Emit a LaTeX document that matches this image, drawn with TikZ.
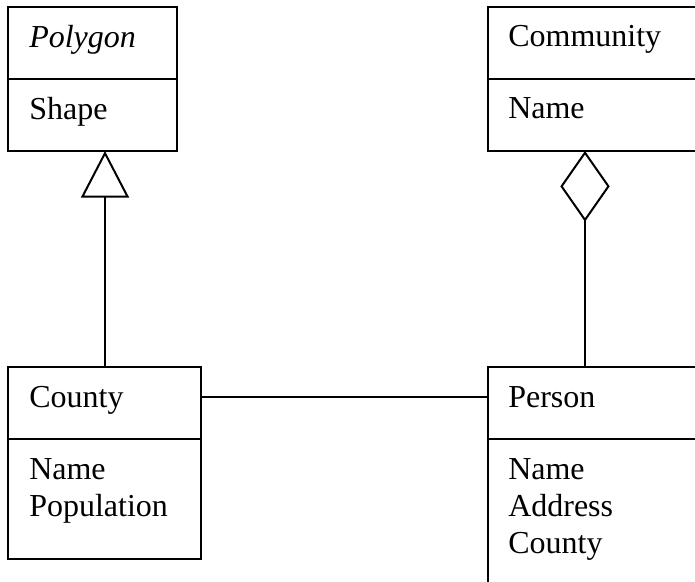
\documentclass[tikz,border=0pt]{standalone}
\usepackage{fontspec}
\setmainfont{Liberation Serif}
\usetikzlibrary{arrows.meta}
\begin{document}
\begin{tikzpicture}[x=0.75pt,y=-0.75pt,
  comp/.style={draw, line width=1.5pt, rectangle, inner sep=0pt, outer sep=0pt, anchor=north west},
  lbl/.style={anchor=base west, inner sep=0pt, font=\fontsize{24}{28}\selectfont},
  conn/.style={line width=1.5pt}]
\useasboundingbox (0,0) rectangle (695,581);
\clip (0,0) rectangle (695,581);
% Polygon
\node[comp, minimum width=169*0.75pt, minimum height=72*0.75pt] (polyTop) at (8,7) {};
\node[comp, minimum width=169*0.75pt, minimum height=72*0.75pt] (polyBot) at (8,79) {};
\node[lbl, font=\fontsize{24}{28}\selectfont\itshape] (polyName) at (29,48) {Polygon};
\node[lbl] (polyAttr) at (29,120) {Shape};
% Community
\node[comp, minimum width=232*0.75pt, minimum height=72*0.75pt] (commTop) at (488,7) {};
\node[comp, minimum width=232*0.75pt, minimum height=72*0.75pt] (commBot) at (488,79) {};
\node[lbl] (commName) at (508,47) {Community};
\node[lbl] (commAttr) at (508,119) {Name};
% County
\node[comp, minimum width=193*0.75pt, minimum height=72*0.75pt] (countyTop) at (8,367) {};
\node[comp, minimum width=193*0.75pt, minimum height=120*0.75pt] (countyBot) at (8,439) {};
\node[lbl] (countyName) at (29,407) {County};
\node[lbl] (countyA1) at (29,479) {Name};
\node[lbl] (countyA2) at (29,516) {Population};
% Person
\node[comp, minimum width=232*0.75pt, minimum height=72*0.75pt] (personTop) at (488,367) {};
\node[comp, minimum width=232*0.75pt, minimum height=170*0.75pt] (personBot) at (488,439) {};
\node[lbl] (personName) at (508,407) {Person};
\node[lbl] (personA1) at (508,479) {Name};
\node[lbl] (personA2) at (508,516) {Address};
\node[lbl] (personA3) at (508,553) {County};
% attachment points
\coordinate (genEnd) at (105,151);
\coordinate (aggEnd) at (585,151);
% connectors
\draw[conn, -{Triangle[open, length=35pt, width=36pt]}] (countyTop.north -| genEnd) -- (genEnd);
\draw[conn, -{Diamond[open, length=53pt, width=37pt]}] (personTop.north -| aggEnd) -- (aggEnd);
\draw[conn] ([yshift=4.5pt]countyTop.east) -- ([yshift=4.5pt]personTop.west);
\end{tikzpicture}
\end{document}
